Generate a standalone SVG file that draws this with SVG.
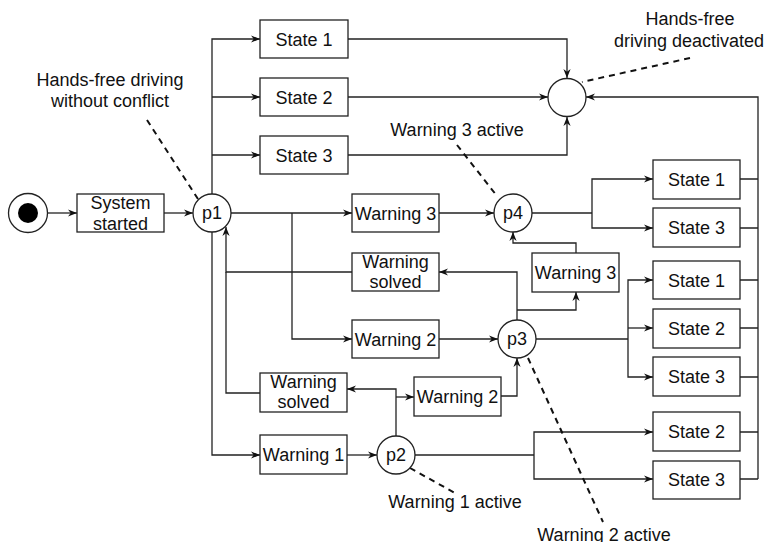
<svg xmlns="http://www.w3.org/2000/svg" width="764" height="542" viewBox="0 0 764 542">
  <style>
    .box { fill: #fff; stroke: #222; stroke-width: 1.3; }
    .place { fill: #fff; stroke: #222; stroke-width: 1.3; }
    .t { font-family: "Liberation Sans", Arial, sans-serif; font-size: 18px; fill: #111; text-anchor: middle; }
    .edge { fill: none; stroke: #222; stroke-width: 1.3; }
    .arrow { marker-end: url(#arr); }
    .note { fill: none; stroke: #111; stroke-width: 2; stroke-dasharray: 6 5; }
  </style>
  <defs>
    <marker id="arr" viewBox="0 0 10 10" refX="10" refY="5" markerWidth="9" markerHeight="9" orient="auto" markerUnits="userSpaceOnUse">
      <path d="M0,1 L10,5 L0,9 L3,5 z" fill="#111"/>
    </marker>
  </defs>
  <rect width="764" height="542" fill="#fff"/>

  <!-- connectors -->
  <g id="connectors">
    <path class="edge arrow" d="M48,213 H77"/>
    <path class="edge arrow" d="M164,213 H193"/>
    <path class="edge arrow" d="M212,194 V39 H260"/>
    <path class="edge arrow" d="M212,97 H260"/>
    <path class="edge arrow" d="M212,155 H260"/>
    <path class="edge arrow" d="M348,39 H567 V78"/>
    <path class="edge arrow" d="M348,97 H548"/>
    <path class="edge arrow" d="M348,155 H567 V117"/>
    <path class="edge arrow" d="M231,213 H352"/>
    <path class="edge arrow" d="M292,213 V339 H352"/>
    <path class="edge arrow" d="M439,213 H494"/>
    <path class="edge arrow" d="M439,339 H498"/>
    <path class="edge" d="M532,213 H592"/>
    <path class="edge arrow" d="M592,213 V179 H653"/>
    <path class="edge arrow" d="M592,213 V228 H653"/>
    <path class="edge arrow" d="M576,253 V243 H513 V232"/>
    <path class="edge arrow" d="M517,320 V272 H439"/>
    <path class="edge arrow" d="M517,310 H576 V292"/>
    <path class="edge" d="M536,339 H628"/>
    <path class="edge arrow" d="M628,339 V280 H653"/>
    <path class="edge arrow" d="M628,328 H653"/>
    <path class="edge arrow" d="M628,339 V377 H653"/>
    <path class="edge arrow" d="M352,272 H226 V227"/>
    <path class="edge" d="M260,393 H226 V272"/>
    <path class="edge arrow" d="M212,232 V455 H260"/>
    <path class="edge arrow" d="M347,455 H377"/>
    <path class="edge arrow" d="M396,436 V389 H347"/>
    <path class="edge arrow" d="M396,397 H414"/>
    <path class="edge arrow" d="M501,396 H517 V358"/>
    <path class="edge" d="M415,455 H534"/>
    <path class="edge arrow" d="M534,455 V432 H653"/>
    <path class="edge arrow" d="M534,455 V479 H653"/>
    <path class="edge" d="M740,179 H758 M740,228 H758 M740,280 H758 M740,328 H758 M740,377 H758 M740,432 H758 M740,479 H758"/>
    <path class="edge arrow" d="M758,479 V97 H586"/>
    <!-- dashed annotation leaders -->
    <path class="note" d="M147,120 L198,199"/>
    <path class="note" d="M690,58 L582,82"/>
    <path class="note" d="M457,145 L497,196"/>
    <path class="note" d="M410,468 L455,493"/>
    <path class="note" d="M528,358 L603,522"/>
  </g>

  <!-- nodes -->
  <g id="start">
    <circle cx="28" cy="213" r="19.5" class="place"/>
    <circle cx="28" cy="213" r="10" fill="#000"/>
  </g>
  <g id="system-started">
    <rect x="77" y="194" width="87" height="38" class="box"/>
    <text x="120.5" y="209" class="t">System</text>
    <text x="120.5" y="230" class="t">started</text>
  </g>
  <g id="p1">
    <circle cx="212" cy="213" r="19" class="place"/>
    <text x="212" y="219" class="t">p1</text>
  </g>
  <g id="state1-top">
    <rect x="260" y="20" width="88" height="38" class="box"/>
    <text x="304" y="45.5" class="t">State 1</text>
  </g>
  <g id="state2-top">
    <rect x="260" y="78" width="88" height="38" class="box"/>
    <text x="304" y="103.5" class="t">State 2</text>
  </g>
  <g id="state3-top">
    <rect x="260" y="136" width="88" height="38" class="box"/>
    <text x="304" y="161.5" class="t">State 3</text>
  </g>
  <g id="end">
    <circle cx="567" cy="97.5" r="19" class="place"/>
  </g>
  <g id="warning3">
    <rect x="352" y="194" width="87" height="38" class="box"/>
    <text x="395.5" y="219.5" class="t">Warning 3</text>
  </g>
  <g id="warning-solved-upper">
    <rect x="352" y="253" width="87" height="38" class="box"/>
    <text x="395.5" y="268" class="t">Warning</text>
    <text x="395.5" y="288" class="t">solved</text>
  </g>
  <g id="warning2">
    <rect x="352" y="320" width="87" height="38" class="box"/>
    <text x="395.5" y="345.5" class="t">Warning 2</text>
  </g>
  <g id="p4">
    <circle cx="513" cy="213" r="19" class="place"/>
    <text x="513" y="219" class="t">p4</text>
  </g>
  <g id="warning3-retry">
    <rect x="532" y="253" width="87" height="39" class="box"/>
    <text x="575.5" y="278.5" class="t">Warning 3</text>
  </g>
  <g id="p3">
    <circle cx="517" cy="339" r="19" class="place"/>
    <text x="517" y="345" class="t">p3</text>
  </g>
  <g id="p4-state1">
    <rect x="653" y="160" width="87" height="39" class="box"/>
    <text x="696.5" y="185.5" class="t">State 1</text>
  </g>
  <g id="p4-state3">
    <rect x="653" y="208" width="87" height="39" class="box"/>
    <text x="696.5" y="233.5" class="t">State 3</text>
  </g>
  <g id="p3-state1">
    <rect x="653" y="261" width="87" height="38" class="box"/>
    <text x="696.5" y="286.5" class="t">State 1</text>
  </g>
  <g id="p3-state2">
    <rect x="653" y="309" width="87" height="39" class="box"/>
    <text x="696.5" y="334.5" class="t">State 2</text>
  </g>
  <g id="p3-state3">
    <rect x="653" y="357" width="87" height="39" class="box"/>
    <text x="696.5" y="382.5" class="t">State 3</text>
  </g>
  <g id="warning-solved-lower">
    <rect x="260" y="373" width="87" height="39" class="box"/>
    <text x="303.5" y="388" class="t">Warning</text>
    <text x="303.5" y="408" class="t">solved</text>
  </g>
  <g id="warning2-retry">
    <rect x="414" y="377" width="87" height="39" class="box"/>
    <text x="457.5" y="402.5" class="t">Warning 2</text>
  </g>
  <g id="warning1">
    <rect x="260" y="435" width="87" height="39" class="box"/>
    <text x="303.5" y="461" class="t">Warning 1</text>
  </g>
  <g id="p2">
    <circle cx="396" cy="455" r="19" class="place"/>
    <text x="396" y="461" class="t">p2</text>
  </g>
  <g id="p2-state2">
    <rect x="653" y="412" width="87" height="39" class="box"/>
    <text x="696.5" y="438" class="t">State 2</text>
  </g>
  <g id="p2-state3">
    <rect x="653" y="461" width="87" height="38" class="box"/>
    <text x="696.5" y="486" class="t">State 3</text>
  </g>

  <!-- annotations -->
  <g id="labels">
    <text x="110" y="86" class="t">Hands-free driving</text>
    <text x="110" y="107" class="t">without conflict</text>
    <text x="690" y="25" class="t">Hands-free</text>
    <text x="689" y="47" class="t">driving deactivated</text>
    <text x="457" y="136" class="t">Warning 3 active</text>
    <text x="455" y="508" class="t">Warning 1 active</text>
    <text x="604" y="541" class="t">Warning 2 active</text>
  </g>
</svg>
